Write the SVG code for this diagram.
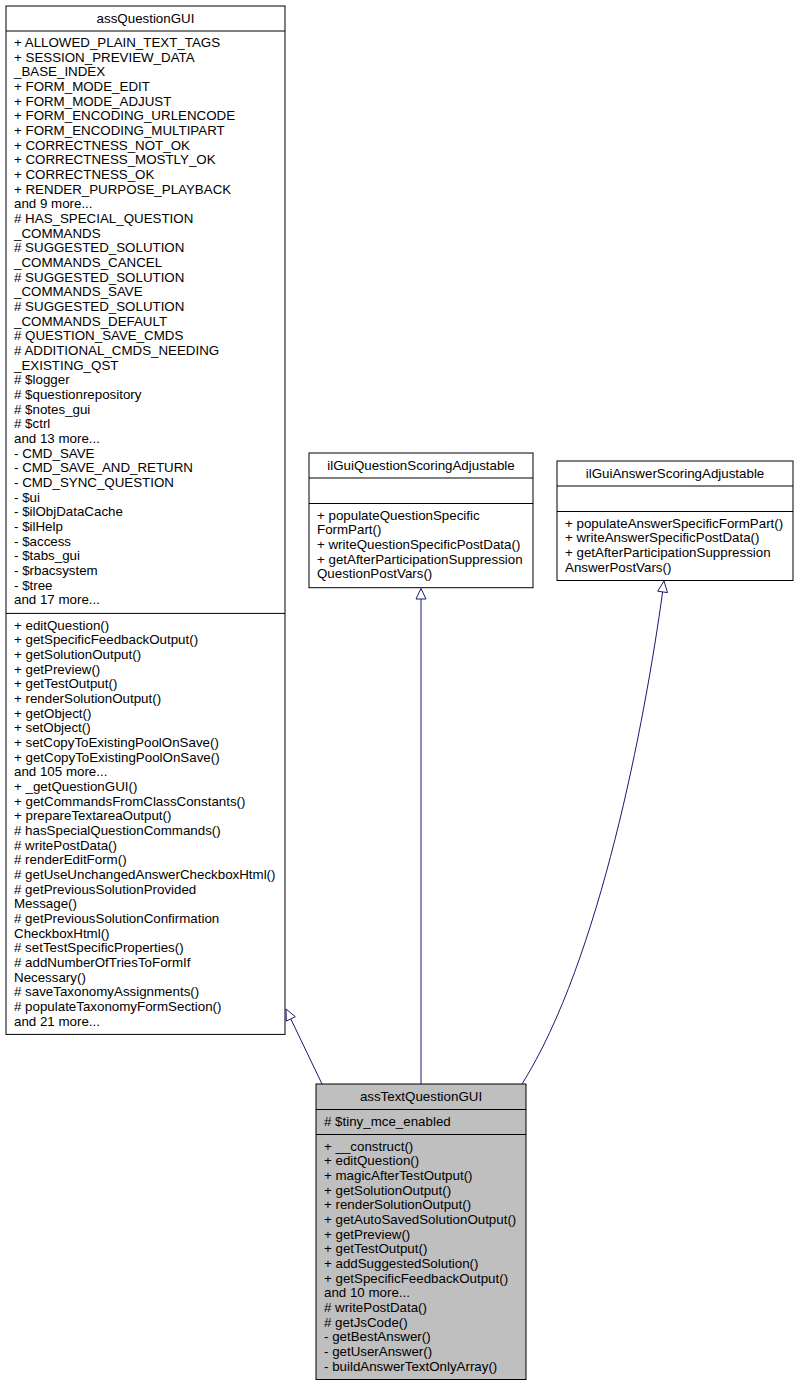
<svg xmlns="http://www.w3.org/2000/svg" width="798" height="1387" viewBox="0 0 798 1387">
<style>
.box{fill:#ffffff;stroke:#000000;stroke-width:1}
.gray{fill:#bfbfbf;stroke:#000000;stroke-width:1}
.sep{stroke:#000000;stroke-width:1}
text{font-family:"Liberation Sans",Arial,Helvetica,sans-serif;font-size:13.33px;fill:#000000}
.c{text-anchor:middle}
.edge{fill:none;stroke:#191970;stroke-width:1}
.head{fill:#ffffff;stroke:#191970;stroke-width:1}
</style>
<rect x="0" y="0" width="798" height="1387" fill="#ffffff"/>
<g id="assQuestionGUI">
<rect class="box" x="6" y="6" width="279" height="1028.4"/>
<line class="sep" x1="6" y1="31" x2="285" y2="31"/>
<line class="sep" x1="6" y1="613.4" x2="285" y2="613.4"/>
<text class="c" x="145.5" y="23">assQuestionGUI</text>
<text x="14" y="47">+ ALLOWED_PLAIN_TEXT_TAGS</text>
<text x="14" y="61.67">+ SESSION_PREVIEW_DATA</text>
<text x="14" y="76.34">_BASE_INDEX</text>
<text x="14" y="91.01">+ FORM_MODE_EDIT</text>
<text x="14" y="105.68">+ FORM_MODE_ADJUST</text>
<text x="14" y="120.35">+ FORM_ENCODING_URLENCODE</text>
<text x="14" y="135.02">+ FORM_ENCODING_MULTIPART</text>
<text x="14" y="149.69">+ CORRECTNESS_NOT_OK</text>
<text x="14" y="164.36">+ CORRECTNESS_MOSTLY_OK</text>
<text x="14" y="179.03">+ CORRECTNESS_OK</text>
<text x="14" y="193.7">+ RENDER_PURPOSE_PLAYBACK</text>
<text x="14" y="208.37">and 9 more...</text>
<text x="14" y="223.04"># HAS_SPECIAL_QUESTION</text>
<text x="14" y="237.71">_COMMANDS</text>
<text x="14" y="252.38"># SUGGESTED_SOLUTION</text>
<text x="14" y="267.05">_COMMANDS_CANCEL</text>
<text x="14" y="281.72"># SUGGESTED_SOLUTION</text>
<text x="14" y="296.39">_COMMANDS_SAVE</text>
<text x="14" y="311.06"># SUGGESTED_SOLUTION</text>
<text x="14" y="325.73">_COMMANDS_DEFAULT</text>
<text x="14" y="340.4"># QUESTION_SAVE_CMDS</text>
<text x="14" y="355.07"># ADDITIONAL_CMDS_NEEDING</text>
<text x="14" y="369.74">_EXISTING_QST</text>
<text x="14" y="384.41"># $logger</text>
<text x="14" y="399.08"># $questionrepository</text>
<text x="14" y="413.75"># $notes_gui</text>
<text x="14" y="428.42"># $ctrl</text>
<text x="14" y="443.09">and 13 more...</text>
<text x="14" y="457.76">- CMD_SAVE</text>
<text x="14" y="472.43">- CMD_SAVE_AND_RETURN</text>
<text x="14" y="487.1">- CMD_SYNC_QUESTION</text>
<text x="14" y="501.77">- $ui</text>
<text x="14" y="516.44">- $ilObjDataCache</text>
<text x="14" y="531.11">- $ilHelp</text>
<text x="14" y="545.78">- $access</text>
<text x="14" y="560.45">- $tabs_gui</text>
<text x="14" y="575.12">- $rbacsystem</text>
<text x="14" y="589.79">- $tree</text>
<text x="14" y="604.46">and 17 more...</text>
<text x="14" y="629.5">+ editQuestion()</text>
<text x="14" y="644.17">+ getSpecificFeedbackOutput()</text>
<text x="14" y="658.84">+ getSolutionOutput()</text>
<text x="14" y="673.51">+ getPreview()</text>
<text x="14" y="688.18">+ getTestOutput()</text>
<text x="14" y="702.85">+ renderSolutionOutput()</text>
<text x="14" y="717.52">+ getObject()</text>
<text x="14" y="732.19">+ setObject()</text>
<text x="14" y="746.86">+ setCopyToExistingPoolOnSave()</text>
<text x="14" y="761.53">+ getCopyToExistingPoolOnSave()</text>
<text x="14" y="776.2">and 105 more...</text>
<text x="14" y="790.87">+ _getQuestionGUI()</text>
<text x="14" y="805.54">+ getCommandsFromClassConstants()</text>
<text x="14" y="820.21">+ prepareTextareaOutput()</text>
<text x="14" y="834.88"># hasSpecialQuestionCommands()</text>
<text x="14" y="849.55"># writePostData()</text>
<text x="14" y="864.22"># renderEditForm()</text>
<text x="14" y="878.89"># getUseUnchangedAnswerCheckboxHtml()</text>
<text x="14" y="893.56"># getPreviousSolutionProvided</text>
<text x="14" y="908.23">Message()</text>
<text x="14" y="922.9"># getPreviousSolutionConfirmation</text>
<text x="14" y="937.57">CheckboxHtml()</text>
<text x="14" y="952.24"># setTestSpecificProperties()</text>
<text x="14" y="966.91"># addNumberOfTriesToFormIf</text>
<text x="14" y="981.58">Necessary()</text>
<text x="14" y="996.25"># saveTaxonomyAssignments()</text>
<text x="14" y="1010.92"># populateTaxonomyFormSection()</text>
<text x="14" y="1025.59">and 21 more...</text>
</g>
<g id="ilGuiQuestionScoringAdjustable">
<rect class="box" x="309" y="453" width="224" height="134.7"/>
<line class="sep" x1="309" y1="478" x2="533" y2="478"/>
<line class="sep" x1="309" y1="503.5" x2="533" y2="503.5"/>
<text class="c" x="421" y="470">ilGuiQuestionScoringAdjustable</text>
<text x="317" y="519.5">+ populateQuestionSpecific</text>
<text x="317" y="534.17">FormPart()</text>
<text x="317" y="548.84">+ writeQuestionSpecificPostData()</text>
<text x="317" y="563.51">+ getAfterParticipationSuppression</text>
<text x="317" y="578.18">QuestionPostVars()</text>
</g>
<g id="ilGuiAnswerScoringAdjustable">
<rect class="box" x="557" y="461" width="236" height="119.5"/>
<line class="sep" x1="557" y1="486" x2="793" y2="486"/>
<line class="sep" x1="557" y1="511.5" x2="793" y2="511.5"/>
<text class="c" x="675" y="478">ilGuiAnswerScoringAdjustable</text>
<text x="565" y="527.5">+ populateAnswerSpecificFormPart()</text>
<text x="565" y="542.17">+ writeAnswerSpecificPostData()</text>
<text x="565" y="556.84">+ getAfterParticipationSuppression</text>
<text x="565" y="571.51">AnswerPostVars()</text>
</g>
<g id="assTextQuestionGUI">
<rect class="gray" x="316" y="1084" width="210" height="295.5"/>
<line class="sep" x1="316" y1="1109.5" x2="526" y2="1109.5"/>
<line class="sep" x1="316" y1="1134.5" x2="526" y2="1134.5"/>
<text class="c" x="421" y="1101">assTextQuestionGUI</text>
<text x="324" y="1125.5"># $tiny_mce_enabled</text>
<text x="324" y="1150.5">+ __construct()</text>
<text x="324" y="1165.17">+ editQuestion()</text>
<text x="324" y="1179.84">+ magicAfterTestOutput()</text>
<text x="324" y="1194.51">+ getSolutionOutput()</text>
<text x="324" y="1209.18">+ renderSolutionOutput()</text>
<text x="324" y="1223.85">+ getAutoSavedSolutionOutput()</text>
<text x="324" y="1238.52">+ getPreview()</text>
<text x="324" y="1253.19">+ getTestOutput()</text>
<text x="324" y="1267.86">+ addSuggestedSolution()</text>
<text x="324" y="1282.53">+ getSpecificFeedbackOutput()</text>
<text x="324" y="1297.2">and 10 more...</text>
<text x="324" y="1311.87"># writePostData()</text>
<text x="324" y="1326.54"># getJsCode()</text>
<text x="324" y="1341.21">- getBestAnswer()</text>
<text x="324" y="1355.88">- getUserAnswer()</text>
<text x="324" y="1370.55">- buildAnswerTextOnlyArray()</text>
</g>
<g id="connectors">
<path class="edge" d="M322,1084 L290.8,1018.9"/>
<polygon class="head" points="286,1009 295.3,1016.7 286.3,1021.1"/>
<path class="edge" d="M421,1084 L421,599"/>
<polygon class="head" points="421,588.5 426,599 416,599"/>
<path class="edge" d="M522,1084 C600,960 645,720 662.6,592"/>
<polygon class="head" points="664,581 667.5,592.6 657.7,591.2"/>
</g>
</svg>
